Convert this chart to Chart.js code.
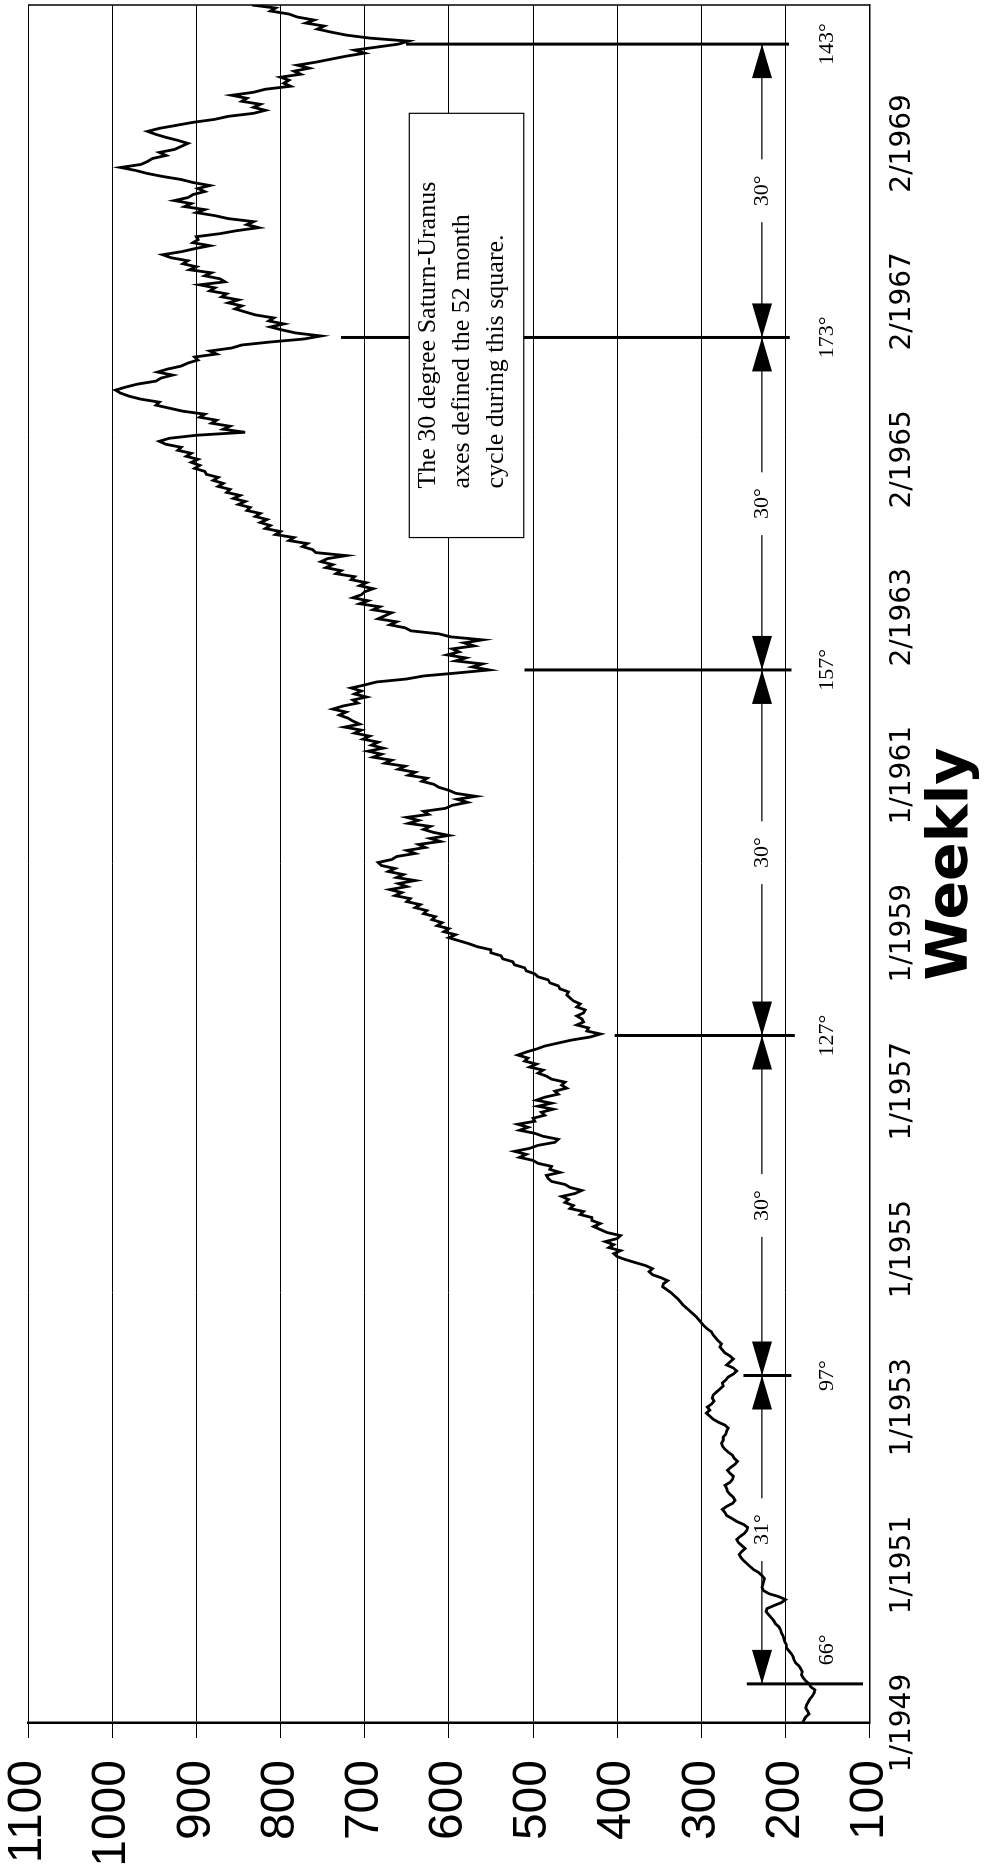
<!DOCTYPE html>
<html>
<head>
<meta charset="utf-8">
<title>Weekly</title>
<script src="https://cdn.jsdelivr.net/npm/chart.js@4.4.1/dist/chart.umd.min.js"></script>
<style>
  html, body { margin: 0; padding: 0; background: #fff; overflow: hidden; width: 1006px; height: 1875px; }
  /* the chart is drawn landscape and turned a quarter turn, like the scanned page */
  #wrap { position: absolute; left: 0; top: 0; width: 1875px; height: 1006px;
          transform-origin: 0 0; transform: translateY(1875px) rotate(-90deg); }
</style>
</head>
<body>
<div id="wrap"><canvas id="chart" width="1875" height="1006"></canvas></div>
<script>
// closing values, one every 2 weeks, a line per year (1949 .. 1970)
const closes = [
  180,178,176,172,174,176,175,173,171,168,166,165,170,172,176,179,181,180,182,184,188,190,191,193,196,199,
  199,201,202,203,205,206,208,212,214,217,220,223,222,214,205,200,208,220,226,228,227,226,225,228,232,238,
  242,246,250,253,255,252,248,252,256,258,254,249,246,245,250,258,264,270,272,275,270,263,260,262,266,269,
  270,272,266,263,262,266,269,265,260,257,261,263,268,272,275,276,274,274,271,270,268,272,280,286,290,294,
  290,293,288,285,287,286,282,278,274,275,271,268,262,258,262,270,266,262,266,272,275,278,276,280,283,286,
  288,293,297,300,303,306,310,314,318,322,325,328,332,336,341,346,345,340,348,358,362,358,366,378,390,400,
  404,396,410,404,414,400,396,412,420,428,420,430,430,444,440,456,452,462,458,466,450,442,456,462,478,482,
  484,468,480,478,494,500,516,508,522,504,494,474,470,488,498,516,506,518,498,500,486,490,476,494,478,496,
  486,470,474,460,466,462,478,484,494,488,504,496,510,506,518,508,496,486,470,454,432,420,436,434,448,440,
  442,448,440,438,448,444,452,456,460,458,468,470,480,482,494,498,508,510,522,524,536,538,550,550,566,576,
  588,600,592,606,600,614,608,620,616,630,626,640,634,650,646,664,656,670,650,660,640,662,654,672,664,680,
  684,668,662,640,650,628,636,610,622,600,618,630,622,648,636,650,624,630,604,596,578,590,568,592,600,612,
  618,632,626,648,640,660,652,676,668,690,680,696,678,692,684,702,694,712,704,724,706,714,720,730,722,738,
  726,708,714,698,712,704,716,700,686,650,630,590,552,572,560,592,580,602,588,596,570,582,560,598,612,645,
  652,670,662,684,676,668,690,682,706,696,714,704,700,690,706,698,716,712,734,728,746,738,752,744,722,758,
  762,774,768,790,784,806,800,818,812,824,816,830,824,840,836,850,842,856,848,864,860,874,868,880,874,888,
  890,902,896,906,898,912,906,922,918,936,944,932,900,842,868,860,882,876,896,890,916,932,948,944,966,980,
  990,996,984,970,948,942,928,946,934,918,910,898,902,876,884,858,846,812,772,752,782,798,812,796,814,808,
  830,842,854,846,862,850,870,864,884,878,896,866,872,890,882,908,900,916,910,930,940,918,902,884,904,898,
  900,872,852,826,840,832,862,878,900,890,914,906,926,910,904,890,898,884,904,918,940,958,972,990,966,958,
  952,936,944,926,918,910,922,936,948,958,944,924,904,878,862,832,818,832,824,846,840,858,832,818,788,796,
  790,800,776,784,766,780,758,740,722,700,712,686,660,648,694,722,740,756,748,770,760,780,790,812,806,834
];

// category labels, one every 105 weeks
const tickLabels = ['1/1949','1/1951','1/1953','1/1955','1/1957','1/1959','1/1961','2/1963','2/1965','2/1967','2/1969'];
const labelEvery = 105;

// Saturn-Uranus aspect dates (week number) and the span each marker line covers
const markerWeeks = [26, 231, 457, 700, 921, 1116];
const markerDegrees = ['66°', '97°', '127°', '157°', '173°', '143°'];
const markerHigh = [246, 250, 403, 510, 728, 651];
const markerLow = [108, 193, 189, 193, 195, 196];
const spanLabels = ['31°', '30°', '30°', '30°', '30°'];
const arrowLevel = 228;
const degreeLevel = 150;

const noteLines = ['The 30 degree Saturn-Uranus', 'axes defined the 52 month', 'cycle during this square.'];

const points = closes.map((v, i) => ({ x: i * 2, y: v }));

function arrowHead(ctx, tipX, tipY, dir) {
  ctx.beginPath();
  ctx.moveTo(tipX, tipY);
  ctx.lineTo(tipX + dir * 34, tipY - 10);
  ctx.lineTo(tipX + dir * 34, tipY + 10);
  ctx.closePath();
  ctx.fill();
}

const annotate = {
  id: 'annotate',
  afterDatasetsDraw(chart) {
    const { ctx, chartArea: area, scales: { x, y } } = chart;
    ctx.save();
    ctx.strokeStyle = '#000';
    ctx.fillStyle = '#000';

    // right side of the frame
    ctx.lineWidth = 1.5;
    ctx.beginPath();
    ctx.moveTo(area.right, area.top);
    ctx.lineTo(area.right, area.bottom);
    ctx.stroke();

    // marker lines
    ctx.lineWidth = 3;
    markerWeeks.forEach((w, i) => {
      const px = x.getPixelForValue(w);
      ctx.beginPath();
      ctx.moveTo(px, y.getPixelForValue(markerHigh[i]));
      ctx.lineTo(px, y.getPixelForValue(markerLow[i]));
      ctx.stroke();
    });

    // double arrows between markers
    const ay = y.getPixelForValue(arrowLevel);
    ctx.font = '22px "Liberation Serif"';
    ctx.textAlign = 'center';
    ctx.textBaseline = 'middle';
    for (let i = 0; i < spanLabels.length; i++) {
      const x0 = x.getPixelForValue(markerWeeks[i]);
      const x1 = x.getPixelForValue(markerWeeks[i + 1]);
      ctx.lineWidth = 1.3;
      ctx.beginPath();
      ctx.moveTo(x0, ay);
      ctx.lineTo(x1, ay);
      ctx.stroke();
      arrowHead(ctx, x0, ay, 1);
      arrowHead(ctx, x1, ay, -1);
      const mid = (x0 + x1) / 2;
      const tw = ctx.measureText(spanLabels[i]).width;
      ctx.fillStyle = '#fff';
      ctx.fillRect(mid - tw / 2 - 16, ay - 12, tw + 32, 24);
      ctx.fillStyle = '#000';
      ctx.fillText(spanLabels[i], mid, ay);
    }

    // degree of each marker (the first one sits beside its line)
    const dy = y.getPixelForValue(degreeLevel);
    markerDegrees.forEach((t, i) => {
      let px = x.getPixelForValue(markerWeeks[i]);
      if (i === 0) px += 34;
      ctx.fillText(t, px, dy);
    });

    // note box
    const bx0 = x.getPixelForValue(788), bx1 = x.getPixelForValue(1070);
    const by0 = y.getPixelForValue(647), by1 = y.getPixelForValue(511);
    ctx.fillStyle = '#fff';
    ctx.fillRect(bx0, by0, bx1 - bx0, by1 - by0);
    ctx.lineWidth = 1.2;
    ctx.strokeRect(bx0, by0, bx1 - bx0, by1 - by0);
    ctx.fillStyle = '#000';
    ctx.font = '26px "Liberation Serif"';
    ctx.textAlign = 'left';
    noteLines.forEach((t, k) => ctx.fillText(t, bx0 + 49, by0 + 19 + 34 * k));

    ctx.restore();
  }
};

new Chart(document.getElementById('chart'), {
  type: 'line',
  data: {
    datasets: [{
      data: points,
      borderColor: '#000',
      borderWidth: 2.8,
      pointRadius: 0,
      tension: 0,
      fill: false
    }]
  },
  options: {
    responsive: false,
    animation: false,
    devicePixelRatio: 1,
    layout: { padding: { top: 28, right: 5, left: 0, bottom: 0 } },
    plugins: { legend: { display: false }, tooltip: { enabled: false } },
    scales: {
      x: {
        type: 'linear',
        min: 0,
        max: (closes.length - 1) * 2,
        afterBuildTicks: scale => {
          scale.ticks = tickLabels.map((t, k) => ({ value: k * labelEvery }));
        },
        afterFit: scale => { scale.height = 136.3; },
        grid: { display: false, drawTicks: false },
        border: { display: true, color: '#000', width: 1.5 },
        ticks: {
          autoSkip: false,
          maxRotation: 0,
          minRotation: 0,
          padding: 16,
          color: '#000',
          font: { family: '"DejaVu Sans"', size: 28 },
          callback: (v, i) => tickLabels[i]
        },
        title: {
          display: true,
          text: 'Weekly',
          color: '#000',
          font: { family: '"DejaVu Sans"', size: 57, weight: 'bold' },
          padding: { top: 0, bottom: 20 }
        }
      },
      y: {
        min: 100,
        max: 1100,
        afterFit: scale => {
          scale.width = 152;
          // labels only need half their height above the top gridline
          scale.paddingTop = 24;
          scale.paddingBottom = 24;
        },
        grid: { color: '#000', lineWidth: 1, tickLength: 15, drawTicks: true },
        border: { display: true, color: '#000', width: 2.5 },
        ticks: {
          stepSize: 100,
          padding: 22,
          color: '#000',
          font: { family: '"Liberation Sans"', size: 48, lineHeight: 1 },
          callback: v => String(v)
        }
      }
    }
  },
  plugins: [annotate]
});
</script>
</body>
</html>
